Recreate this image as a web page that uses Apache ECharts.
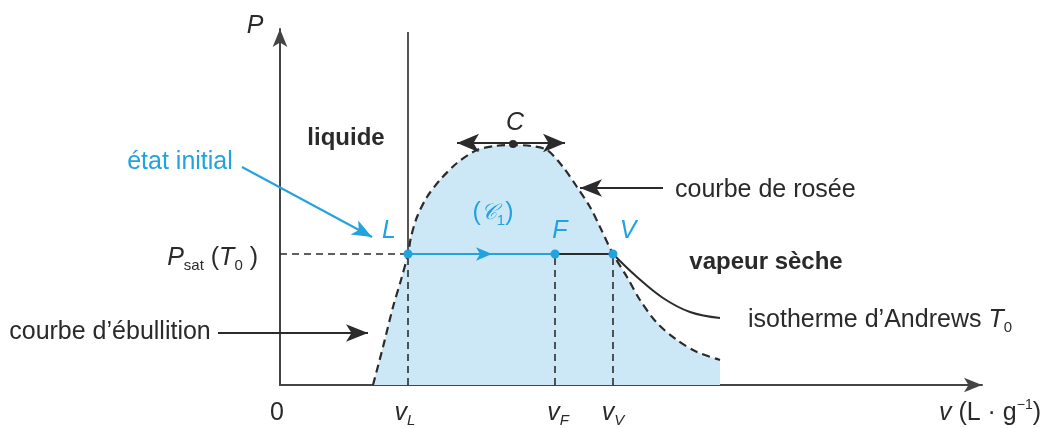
<!DOCTYPE html>
<html>
<head>
<meta charset="utf-8">
<script src="https://cdn.jsdelivr.net/npm/echarts@6/dist/echarts.min.js"></script>
<style>
html, body { margin: 0; padding: 0; background: #fff; }
#chart { width: 1045px; height: 428px; }
</style>
</head>
<body>
<div id="chart"></div>
<script>
// values (x: volume, y: pressure, arbitrary units)
var bellCurve = [
	[93, 0], [103, 38], [113, 78], [121, 105], [128, 131], [131, 148], [137, 168],
	[147, 188], [160, 205], [177, 222], [197, 235], [215, 239], [233, 240], [251, 239],
	[267, 235], [283, 218], [297, 198], [310, 178], [320, 158], [333, 131],
	[347, 108], [360, 85], [377, 62], [397, 45], [417, 33], [440, 25]
];
var isothermRight = [[333, 131], [357, 108], [383, 87], [410, 73], [440, 67]];
var liquidEdge = [[128, 131], [128, 353]];
var pSat = 131;
var vL = 128, vF = 275, vV = 333;
var critical = [233, 241];

var dark = '#2b2b2b';
var ink = '#2a2a2a';
var blue = '#22a3de';
var font = 'Liberation Sans';

var chart = echarts.init(document.getElementById('chart'));

var rich = {
	n: { fontSize: 25, lineHeight: 30, fontFamily: font },
	i: { fontSize: 25, lineHeight: 30, fontStyle: 'italic', fontFamily: font },
	b: { fontSize: 24, lineHeight: 30, fontWeight: 'bold', fontFamily: font },
	s: { fontSize: 15, lineHeight: 16, verticalAlign: 'bottom', fontFamily: font },
	si: { fontSize: 15, lineHeight: 16, verticalAlign: 'bottom', fontStyle: 'italic', fontFamily: font },
	u: { fontSize: 14, lineHeight: 16, verticalAlign: 'top', fontFamily: font },
	sc: { fontSize: 22, lineHeight: 30, fontStyle: 'italic', fontFamily: 'DejaVu Serif' }
};

function note(x, y, text, align, color) {
	return {
		value: [x, y],
		label: { formatter: text, align: align || 'center', color: color || ink }
	};
}

var notes = [
	note(-25, 359, '{i|P}'),
	note(66, 247, '{b|liquide}'),
	note(235, 262, '{i|C}'),
	note(-100, 223, '{n|état initial}', 'center', blue),
	note(109, 154, '{i|L}', 'center', blue),
	note(213, 172, '{n|(}{sc|𝒞}{s|1}{n|)}', 'center', blue),
	note(280, 154, '{i|F}', 'center', blue),
	note(348, 154, '{i|V}', 'center', blue),
	note(-22, 127, '{i|P}{s|sat}{n| (}{i|T}{s|0}{n| )}', 'right'),
	note(-170, 53, '{n|courbe d’ébullition}'),
	note(-3, -28, '{n|0}'),
	note(vL - 3, -28, '{i|v}{si|L}'),
	note(vF + 3, -28, '{i|v}{si|F}'),
	note(vV, -28, '{i|v}{si|V}'),
	note(710, -28, '{i|v}{n| (L · g}{u|−1}{n|)}'),
	note(395, 195, '{n|courbe de rosée}', 'left'),
	note(486, 123, '{b|vapeur sèche}'),
	note(600, 65, '{n|isotherme d’Andrews }{i|T}{s|0}')
];

function seg(a, b) { return { coords: [a, b] }; }

var option = {
	animation: false,
	grid: { left: 280, right: 63, top: 29, bottom: 43 },
	xAxis: {
		type: 'value', min: 0, max: 702,
		axisLine: { show: true, lineStyle: { color: '#444', width: 2 }, symbol: ['none', 'arrow'], symbolSize: [11, 18] },
		axisTick: { show: false }, axisLabel: { show: false }, splitLine: { show: false }
	},
	yAxis: {
		type: 'value', min: 0, max: 356,
		axisLine: { show: true, onZero: false, lineStyle: { color: '#444', width: 2 }, symbol: ['none', 'arrow'], symbolSize: [11, 18] },
		axisTick: { show: false }, axisLabel: { show: false }, splitLine: { show: false }
	},
	series: [
		{
			type: 'line', data: bellCurve, smooth: 0.3, symbol: 'none', z: 1,
			lineStyle: { color: dark, width: 2.2, type: [8, 5] },
			areaStyle: { color: '#cce8f7', opacity: 1 }
		},
		{
			type: 'line', data: isothermRight, smooth: 0.4, symbol: 'none', z: 3,
			lineStyle: { color: dark, width: 2 }
		},
		{
			type: 'line', data: liquidEdge, symbol: 'none', z: 3,
			lineStyle: { color: dark, width: 1.6 }
		},
		{
			// dashed guides
			type: 'lines', coordinateSystem: 'cartesian2d', clip: false, z: 2,
			lineStyle: { color: dark, width: 1.6, type: [7, 5], opacity: 1 },
			data: [
				seg([0, pSat], [vL, pSat]),
				seg([vL, 0], [vL, pSat]),
				seg([vF, 0], [vF, pSat]),
				seg([vV, 0], [vV, pSat])
			]
		},
		{
			type: 'lines', coordinateSystem: 'cartesian2d', clip: false, z: 3,
			lineStyle: { color: dark, width: 2, opacity: 1 },
			data: [seg([vF, pSat], [vV, pSat])]
		},
		{
			type: 'lines', coordinateSystem: 'cartesian2d', clip: false, z: 4,
			lineStyle: { color: blue, width: 2.2, opacity: 1 },
			data: [seg([vL, pSat], [vF, pSat])]
		},
		{
			type: 'lines', coordinateSystem: 'cartesian2d', clip: false, z: 4,
			symbol: ['none', 'arrow'], symbolSize: [[10, 16], [10, 16]],
			lineStyle: { color: blue, width: 2.2, opacity: 1 },
			data: [seg([vL, pSat], [212, pSat])]
		},
		{
			// black annotation arrows
			type: 'lines', coordinateSystem: 'cartesian2d', clip: false, z: 4,
			symbol: ['none', 'arrow'], symbolSize: [[13, 22], [13, 22]],
			lineStyle: { color: dark, width: 1.8, opacity: 1 },
			data: [
				seg([-62, 52], [88, 52]),
				seg([383, 197], [300, 197])
			]
		},
		{
			type: 'lines', coordinateSystem: 'cartesian2d', clip: false, z: 4,
			symbol: ['arrow', 'arrow'], symbolSize: [[14, 22], [14, 22]],
			lineStyle: { color: dark, width: 1.8, opacity: 1 },
			data: [seg([177, 242], [285, 242])]
		},
		{
			type: 'lines', coordinateSystem: 'cartesian2d', clip: false, z: 4,
			symbol: ['none', 'arrow'], symbolSize: [[12, 20], [12, 20]],
			lineStyle: { color: blue, width: 2, opacity: 1 },
			data: [seg([-38, 218], [92, 148])]
		},
		{
			type: 'scatter', z: 5, symbolSize: 9, itemStyle: { color: blue, opacity: 1 },
			data: [[vL, pSat], [vF, pSat], [vV, pSat]]
		},
		{
			type: 'scatter', z: 5, symbolSize: 8, itemStyle: { color: dark, opacity: 1 },
			data: [critical]
		},
		{
			type: 'scatter', z: 6, symbolSize: 0, clip: false, silent: true,
			itemStyle: { opacity: 1 },
			label: { show: true, position: [0, 0], verticalAlign: 'middle', color: ink, rich: rich },
			data: notes
		}
	]
};

chart.setOption(option);
</script>
</body>
</html>
